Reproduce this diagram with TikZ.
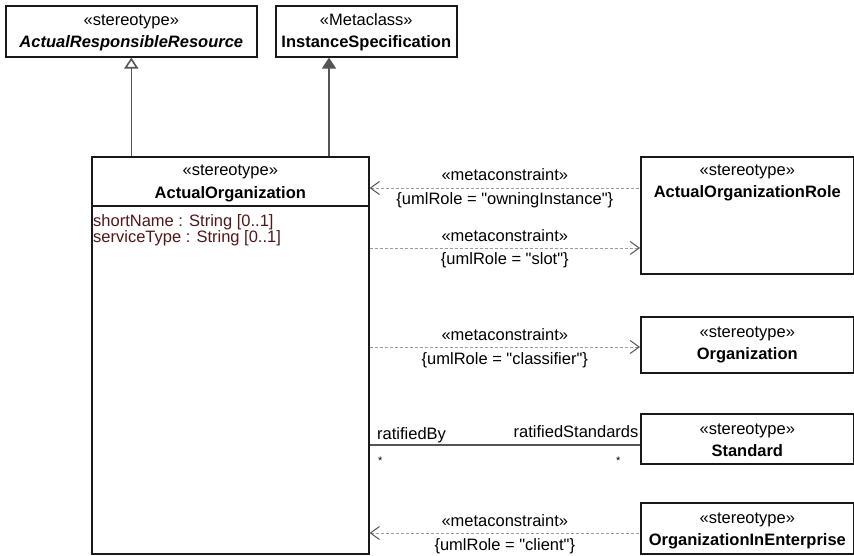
\documentclass[tikz,border=0pt]{standalone}
\usepackage{fontspec}
\setmainfont{Liberation Sans}
\usetikzlibrary{arrows.meta,positioning}
\definecolor{attrcol}{RGB}{80,25,25}
\definecolor{metagray}{RGB}{155,155,155}
\definecolor{gengray}{RGB}{85,85,85}

\begin{document}
\begin{tikzpicture}[x=1pt,y=-1pt,
  every node/.style={font=\fontsize{16.5}{16}\selectfont,inner sep=0pt},
  umlbox/.style={draw=black!90,line width=1.6pt,fill=white,anchor=north west},
  st/.style={anchor=base},
  nm/.style={font=\fontsize{16.5}{16}\selectfont\bfseries,anchor=base},
  attr/.style={anchor=base west,text=attrcol},
  mult/.style={font=\fontsize{11}{11}\selectfont},
  metaline/.style={metagray,line width=0.8pt,dash pattern=on 3pt off 2pt,
    >={Straight Barb[length=9pt,width=13pt,line width=1pt,color=gengray]}},
  above lbl/.style={midway,anchor=base,yshift=7pt,text=black},
  below lbl/.style={midway,anchor=base,yshift=-17pt,text=black},
  gen/.style={gengray,line width=1.6pt}]
  \useasboundingbox (0,0) rectangle (854,556);

  \coordinate (g2) at (329,0);
  \coordinate (y1) at (0,188);
  \coordinate (y2) at (0,248);
  \coordinate (y3) at (0,347);
  \coordinate (y4) at (0,445);
  \coordinate (y5) at (0,533);

  \node[umlbox,minimum width=251pt,minimum height=51pt] (res) at (5,5) {};
  \node[st] (res-st) at ([yshift=-21pt]res.north) {«stereotype»};
  \node[nm] (res-nm) at ([yshift=-43pt]res.north) {\itshape ActualResponsibleResource};

  \node[umlbox,minimum width=181pt,minimum height=51pt] (meta) at (275,5) {};
  \node[st] (meta-st) at ([yshift=-21pt]meta.north) {«Metaclass»};
  \node[nm] (meta-nm) at ([yshift=-43pt]meta.north) {InstanceSpecification};

  \node[umlbox,minimum width=277pt,minimum height=397pt] (org) at (91,156) {};
  \node[st] (org-st) at ([yshift=-20pt]org.north) {«stereotype»};
  \node[nm] (org-nm) at ([yshift=-43pt]org.north) {ActualOrganization};
  \draw[line width=1.6pt,black!90] ([yshift=-50pt]org.north west) -- ([yshift=-50pt]org.north east);
  \node[attr] (attr1) at ([xshift=2pt,yshift=-71pt]org.north west) {shortName : String [0..1]};
  \node[attr] (attr2) at ([xshift=2pt,yshift=-87pt]org.north west) {serviceType : String [0..1]};

  \node[umlbox,minimum width=213pt,minimum height=117pt] (role) at (640,156) {};
  \node[st] (role-st) at ([yshift=-20pt]role.north) {«stereotype»};
  \node[nm] (role-nm) at ([yshift=-42pt]role.north) {ActualOrganizationRole};

  \node[umlbox,minimum width=213pt,minimum height=56pt] (orgn) at (640,316) {};
  \node[st] (orgn-st) at ([yshift=-21pt]orgn.north) {«stereotype»};
  \node[nm] (orgn-nm) at ([yshift=-43pt]orgn.north) {Organization};

  \node[umlbox,minimum width=213pt,minimum height=50pt] (std) at (640,413) {};
  \node[st] (std-st) at ([yshift=-21pt]std.north) {«stereotype»};
  \node[nm] (std-nm) at ([yshift=-43pt]std.north) {Standard};

  \node[umlbox,minimum width=213pt,minimum height=51pt] (oie) at (640,502) {};
  \node[st] (oie-st) at ([yshift=-21pt]oie.north) {«stereotype»};
  \node[nm] (oie-nm) at ([yshift=-43pt]oie.north) {OrganizationInEnterprise};

  \draw[gen,-{Triangle[open,length=11pt,width=14pt]}] (org.north -| res.south) -- (res.south);
  \draw[gen,-{Triangle[length=11pt,width=14pt,fill=gengray]}] (org.north -| g2) -- (meta.south -| g2);

  \draw[metaline,<-] (org.east |- y1) -- (role.west |- y1)
    node[above lbl] {«metaconstraint»}
    node[below lbl] {\{umlRole = \textquotedbl owningInstance\textquotedbl\}};
  \draw[metaline,->] (org.east |- y2) -- (role.west |- y2)
    node[above lbl] {«metaconstraint»}
    node[below lbl] {\{umlRole = \textquotedbl slot\textquotedbl\}};
  \draw[metaline,->] (org.east |- y3) -- (orgn.west |- y3)
    node[above lbl] {«metaconstraint»}
    node[below lbl] {\{umlRole = \textquotedbl classifier\textquotedbl\}};
  \draw[gengray,line width=1.2pt] (org.east |- y4) -- (std.west |- y4)
    node[pos=0,anchor=base west,xshift=7pt,yshift=6pt,text=black] {ratifiedBy}
    node[pos=0,anchor=base west,xshift=8pt,yshift=-19pt,text=black,mult] {*}
    node[pos=1,anchor=base east,xshift=-1pt,yshift=8pt,text=black] {ratifiedStandards}
    node[pos=1,anchor=base east,xshift=-19pt,yshift=-19pt,text=black,mult] {*};
  \draw[metaline,<-] (org.east |- y5) -- (oie.west |- y5)
    node[above lbl] {«metaconstraint»}
    node[below lbl] {\{umlRole = \textquotedbl client\textquotedbl\}};
\end{tikzpicture}
\end{document}
